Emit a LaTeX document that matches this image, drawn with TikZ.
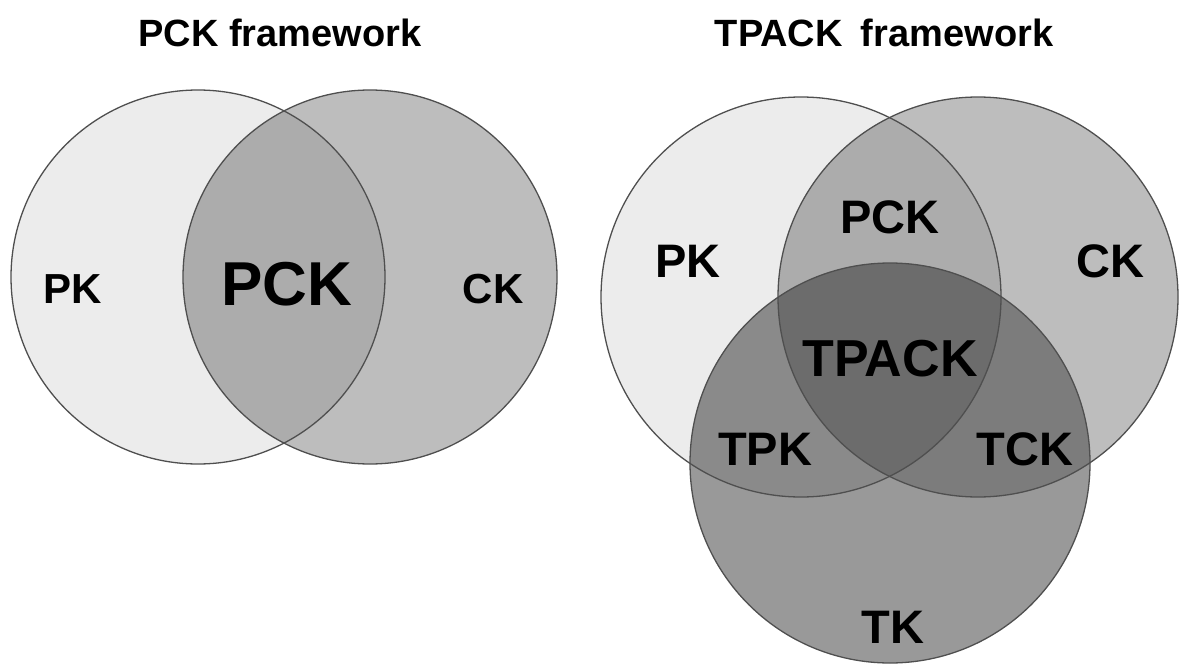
\documentclass[tikz,border=0pt]{standalone}
\usepackage{fontspec}
\setmainfont{Liberation Sans}
\definecolor{pkcol}{HTML}{ECECEC}
\definecolor{ckcol}{HTML}{BDBDBD}
\definecolor{pckcol}{HTML}{ACACAC}
\definecolor{tkcol}{HTML}{999999}
\definecolor{tpkcol}{HTML}{8A8A8A}
\definecolor{tckcol}{HTML}{7C7C7C}
\definecolor{tpackcol}{HTML}{6C6C6C}
\definecolor{edgecol}{HTML}{4F4F4F}
\begin{document}
\begin{tikzpicture}[x=1pt,y=-1pt,
  ring/.style={circle, draw=edgecol, line width=1.3pt, inner sep=0pt},
  lbl/.style={anchor=base, font=\bfseries\fontsize{#1}{#1}\selectfont, text=black, inner sep=0pt},
  title/.style={anchor=base, font=\bfseries\fontsize{38}{40}\selectfont, text=black, inner sep=0pt}]
\useasboundingbox (0,0) rectangle (1182,666);
% ---------- left: PCK framework ----------
\def\rL{187}
\coordinate (lpkc) at (198,277);
\coordinate (lckc) at (370,277);
\fill[pkcol] (lpkc) circle (\rL);
\fill[ckcol] (lckc) circle (\rL);
\begin{scope}
  \clip (lpkc) circle (\rL);
  \fill[pckcol] (lckc) circle (\rL);
\end{scope}
\node[ring, minimum size=374pt] (lpk) at (lpkc) {};
\node[ring, minimum size=374pt] (lck) at (lckc) {};
\node[title] (t1) at (280,47) {PCK framework};
\node[lbl=42] (lpklbl) at (73,303) {PK};
\node[lbl=62] (lpcklbl) at (287,305) {PCK};
\node[lbl=42] (lcklbl) at (493,303) {CK};
% ---------- right: TPACK framework ----------
\def\rR{200}
\coordinate (rpkc) at (801,297);
\coordinate (rckc) at (978,297);
\coordinate (rtkc) at (890,463);
\fill[pkcol] (rpkc) circle (\rR);
\fill[ckcol] (rckc) circle (\rR);
\begin{scope}
  \clip (rpkc) circle (\rR);
  \fill[pckcol] (rckc) circle (\rR);
\end{scope}
\fill[tkcol] (rtkc) circle (\rR);
\begin{scope}
  \clip (rpkc) circle (\rR);
  \fill[tpkcol] (rtkc) circle (\rR);
\end{scope}
\begin{scope}
  \clip (rckc) circle (\rR);
  \fill[tckcol] (rtkc) circle (\rR);
\end{scope}
\begin{scope}
  \clip (rpkc) circle (\rR);
  \clip (rckc) circle (\rR);
  \fill[tpackcol] (rtkc) circle (\rR);
\end{scope}
\node[ring, minimum size=400pt] (rpk) at (rpkc) {};
\node[ring, minimum size=400pt] (rck) at (rckc) {};
\node[ring, minimum size=400pt] (rtk) at (rtkc) {};
\node[title] (t2) at (884,47) {TPACK\hspace{0.2em} framework};
\node[lbl=47] (rpcklbl) at (890,233) {PCK};
\node[lbl=47] (rpklbl) at (688,277) {PK};
\node[lbl=47] (rcklbl) at (1110,277) {CK};
\node[lbl=52] (rtpacklbl) at (890,376) {TPACK};
\node[lbl=47] (rtpklbl) at (765,465) {TPK};
\node[lbl=47] (rtcklbl) at (1025,465) {TCK};
\node[lbl=47] (rtklbl) at (893,643) {TK};
\end{tikzpicture}
\end{document}
